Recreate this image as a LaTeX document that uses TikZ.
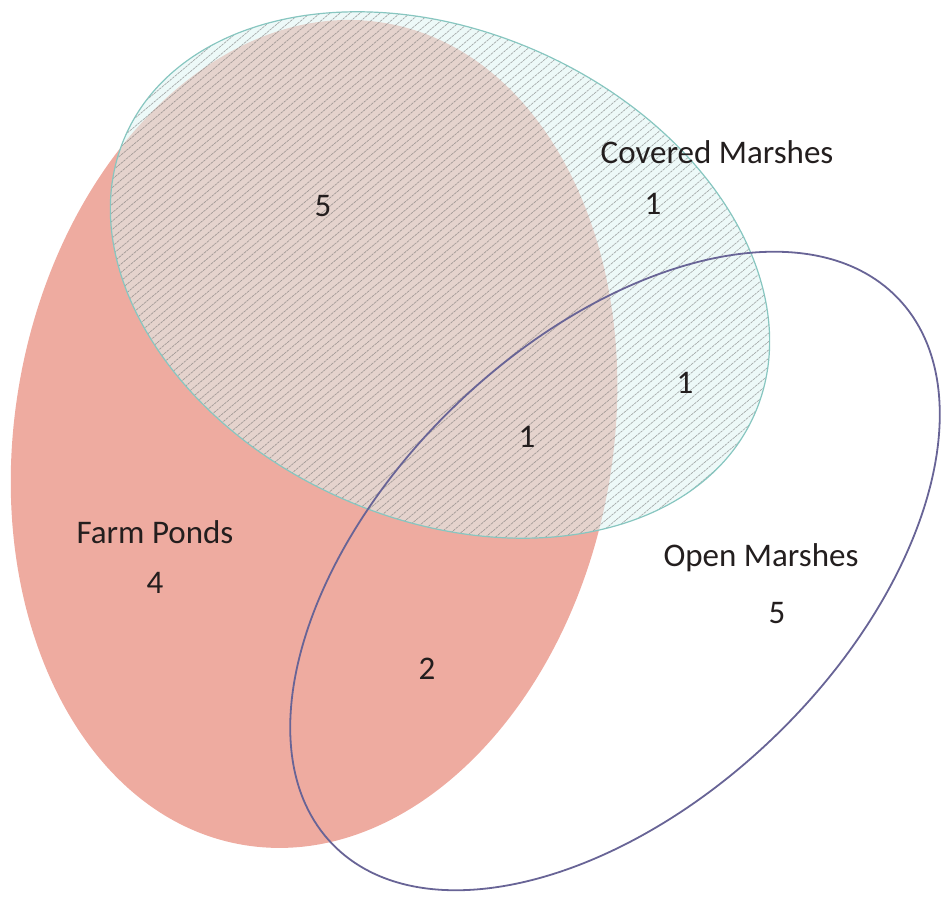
\documentclass[tikz,border=0pt]{standalone}
\usepackage{fontspec}
\setmainfont{Carlito}
\definecolor{pondfill}{RGB}{238,171,160}
\definecolor{coverfill}{RGB}{222,244,242}
\definecolor{coverline}{RGB}{135,198,192}
\definecolor{hatchline}{RGB}{105,105,105}
\definecolor{openline}{RGB}{104,100,150}
\definecolor{labeltext}{RGB}{35,30,30}
\tikzset{
  setlabel/.style={font=\fontsize{33}{40}\selectfont, text=labeltext, inner sep=0pt},
  pondset/.style={fill=pondfill, draw=none},
  coverset/.style={fill=coverfill, fill opacity=0.55, draw=none},
  coveredge/.style={draw=coverline, line width=1.2pt},
  hatchset/.style={draw=hatchline, draw opacity=0.55, line width=0.7pt, dash pattern=on 2.6pt off 0.8pt},
  openedge/.style={draw=openline, line width=1.8pt},
}
\begin{document}
\begin{tikzpicture}[x=1pt,y=1pt]
\useasboundingbox (0,0) rectangle (943,911);

% centres of the three sets
\coordinate (pond) at (314,477);
\coordinate (cover) at (440,636);
\coordinate (open) at (615,340);

% Farm Ponds
\fill[pondset, rotate around={-10:(pond)}] (pond) ellipse [x radius=299, y radius=417];

% Covered Marshes: tinted fill, hatching, outline
\fill[coverset, rotate around={-24:(cover)}] (cover) ellipse [x radius=344, y radius=244];
\begin{scope}
  \clip[rotate around={-24:(cover)}] (cover) ellipse [x radius=344, y radius=244];
  \foreach \i in {-1200,-1190,...,950} {
    \draw[hatchset] (\i,0) -- ++(1100,923);
  }
\end{scope}
\draw[coveredge, rotate around={-24:(cover)}] (cover) ellipse [x radius=344, y radius=244];

% Open Marshes
\draw[openedge, rotate around={44:(open)}] (open) ellipse [x radius=393, y radius=230];

% labels and counts
\node[setlabel] (covname) at (717,759) {Covered Marshes};
\node[setlabel] (covonly) at (653,707) {1};
\node[setlabel] (pondcov) at (323,705) {5};
\node[setlabel] (covopen) at (685,528) {1};
\node[setlabel] (allthree) at (527,474) {1};
\node[setlabel] (pondname) at (155,379) {Farm Ponds};
\node[setlabel] (pondonly) at (155,328) {4};
\node[setlabel] (openname) at (761,353) {Open Marshes};
\node[setlabel] (openonly) at (777,298) {5};
\node[setlabel] (pondopen) at (427,242) {2};
\end{tikzpicture}
\end{document}
